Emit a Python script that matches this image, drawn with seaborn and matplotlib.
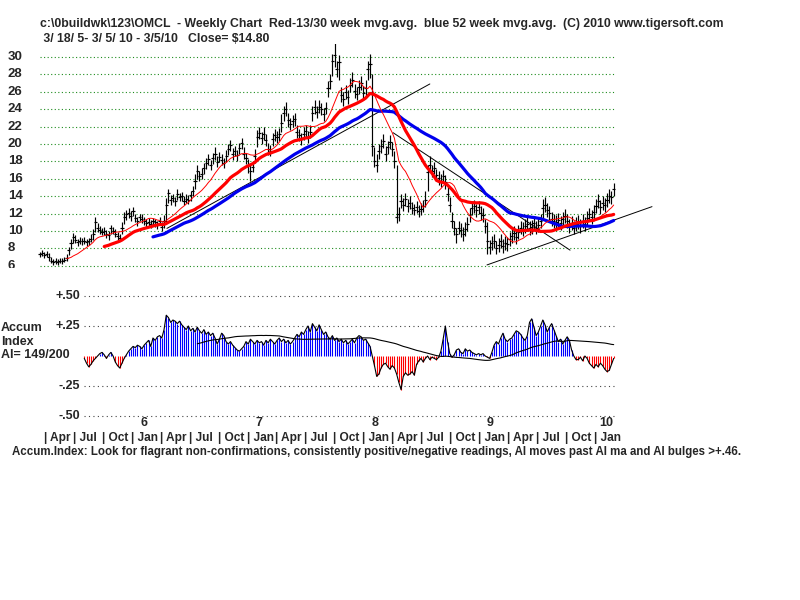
import numpy as np
import pandas as pd
import matplotlib
matplotlib.use("Agg")
import matplotlib.pyplot as plt
import seaborn as sns
from matplotlib.transforms import blended_transform_factory
from matplotlib.patches import Rectangle

# weekly bars from 3/18/05 to 3/5/10
closes = [
    7.3, 7.5, 7.2, 7.4, 7.0, 6.6, 6.4, 6.5, 6.4, 6.6,
    6.5, 6.7, 6.9, 7.8, 8.6, 9.3, 9.0, 8.7, 8.9, 8.8,
    8.9, 8.7, 8.8, 9.1, 9.6, 11.0, 10.4, 10.1, 9.9, 10.0,
    9.6, 9.5, 10.3, 10.0, 9.7, 9.4, 9.2, 10.4, 11.6, 11.9,
    12.1, 11.7, 12.3, 11.5, 11.1, 11.6, 11.4, 11.2, 10.9, 11.0,
    10.8, 11.1, 11.0, 10.7, 11.2, 10.5, 11.1, 13.0, 14.4, 13.6,
    13.8, 13.4, 14.2, 13.9, 14.0, 13.5, 13.7, 13.6, 14.1, 14.6,
    15.8, 16.9, 16.3, 16.6, 17.2, 17.8, 18.3, 17.6, 18.4, 18.9,
    17.9, 18.5, 18.2, 17.8, 18.6, 19.4, 19.9, 18.8, 19.2, 18.7,
    19.5, 20.1, 18.9, 18.4, 17.6, 16.9, 17.4, 18.6, 20.8, 21.3,
    20.7, 21.2, 20.5, 19.4, 19.2, 20.6, 21.0, 20.8, 21.1, 22.4,
    23.6, 24.0, 22.8, 22.3, 22.6, 22.9, 21.4, 21.0, 20.6, 21.2,
    21.5, 20.8, 21.4, 23.6, 24.2, 23.7, 24.3, 24.0, 23.4, 24.1,
    26.4, 27.2, 29.5, 30.2, 28.6, 29.4, 25.6, 25.2, 26.0, 25.4,
    26.8, 27.4, 26.1, 25.8, 26.6, 27.0, 25.9, 26.4, 28.6, 29.2,
    19.8, 18.1, 17.6, 19.2, 19.8, 20.3, 18.9, 19.6, 20.2, 19.4,
    18.0, 11.6, 12.0, 13.4, 13.0, 13.7, 12.9, 13.2, 12.6, 12.4,
    12.8, 12.3, 12.5, 12.9, 13.6, 16.8, 17.6, 16.9, 17.2, 16.4,
    16.1, 15.8, 16.3, 15.6, 14.2, 13.0, 11.2, 10.3, 9.6, 10.4,
    10.1, 9.7, 10.2, 10.8, 11.8, 12.6, 12.9, 12.4, 12.8, 12.1,
    11.8, 10.6, 8.9, 8.2, 8.6, 8.8, 8.1, 8.4, 8.9, 8.3,
    8.6, 8.5, 9.1, 9.4, 9.8, 9.3, 9.9, 10.4, 10.2, 10.6,
    10.8, 10.3, 10.5, 10.9, 10.4, 10.7, 11.1, 12.6, 13.0, 12.4,
    12.1, 11.4, 11.2, 11.0, 11.3, 10.9, 11.4, 11.7, 11.1, 10.6,
    10.9, 10.4, 10.8, 11.0, 10.6, 11.2, 10.8, 11.5, 11.9, 11.6,
    12.2, 12.9, 13.4, 12.8, 13.2, 13.0, 13.6, 14.0, 13.9, 14.8,
]
highs = [
    7.6, 7.8, 7.6, 7.7, 7.5, 7.0, 6.8, 6.9, 6.8, 6.9,
    6.9, 7.0, 7.3, 8.2, 9.1, 9.8, 9.5, 9.1, 9.3, 9.2,
    9.3, 9.1, 9.2, 9.6, 10.2, 11.6, 10.9, 10.6, 10.4, 10.5,
    10.1, 10.0, 10.7, 10.5, 10.2, 9.9, 9.7, 11.0, 12.2, 12.4,
    12.6, 12.3, 12.8, 12.0, 11.6, 12.0, 11.9, 11.6, 11.4, 11.5,
    11.3, 11.5, 11.4, 11.2, 11.6, 11.0, 11.8, 13.8, 14.8, 14.1,
    14.3, 13.9, 14.8, 14.4, 14.5, 14.0, 14.2, 14.1, 14.6, 15.2,
    16.5, 17.6, 16.9, 17.2, 17.8, 18.4, 18.9, 18.2, 19.0, 19.6,
    18.6, 19.1, 18.8, 18.4, 19.3, 20.0, 20.5, 19.5, 19.8, 19.3,
    20.1, 20.7, 19.6, 19.0, 18.3, 17.6, 18.1, 19.4, 21.6, 22.0,
    21.4, 21.9, 21.2, 20.1, 19.9, 21.3, 21.7, 21.5, 21.8, 23.4,
    24.4, 24.8, 23.6, 23.0, 23.3, 23.6, 22.2, 21.7, 21.3, 21.9,
    22.2, 21.5, 22.2, 24.4, 25.0, 24.4, 25.0, 24.7, 24.1, 24.8,
    27.2, 28.0, 30.4, 31.6, 29.5, 30.2, 26.5, 26.0, 26.8, 26.2,
    27.6, 28.3, 26.9, 26.6, 27.4, 27.8, 26.7, 27.3, 29.5, 30.3,
    28.0, 19.6, 18.8, 20.0, 20.6, 21.2, 19.8, 20.4, 21.0, 20.2,
    19.2, 17.6, 12.8, 14.2, 13.8, 14.4, 13.7, 14.0, 13.3, 13.1,
    13.5, 13.0, 13.2, 13.6, 14.6, 17.6, 18.6, 17.6, 17.9, 17.1,
    16.9, 16.5, 17.0, 16.4, 15.4, 13.9, 12.2, 11.2, 10.4, 11.2,
    10.9, 10.5, 11.0, 11.6, 12.6, 13.3, 13.6, 13.1, 13.5, 12.9,
    12.6, 11.4, 11.0, 9.0, 9.4, 9.6, 8.9, 9.2, 9.7, 9.1,
    9.4, 9.3, 9.9, 10.2, 10.6, 10.1, 10.7, 11.2, 11.0, 11.4,
    11.6, 11.1, 11.3, 11.7, 11.2, 11.5, 11.9, 13.7, 13.9, 13.2,
    12.9, 12.2, 12.0, 11.8, 12.1, 11.7, 12.2, 12.5, 11.9, 11.4,
    11.7, 11.2, 11.6, 11.8, 11.4, 12.0, 11.6, 12.3, 12.7, 12.4,
    13.0, 13.7, 14.2, 13.6, 14.0, 13.8, 14.4, 14.8, 14.6, 15.5,
]
lows = [
    7.0, 7.1, 6.9, 7.0, 6.6, 6.3, 6.1, 6.2, 6.1, 6.3,
    6.2, 6.4, 6.6, 7.2, 7.9, 8.6, 8.6, 8.3, 8.5, 8.4,
    8.5, 8.3, 8.4, 8.7, 9.0, 9.9, 9.9, 9.6, 9.5, 9.5,
    9.2, 9.0, 9.7, 9.6, 9.3, 9.0, 8.8, 9.6, 10.8, 11.3,
    11.5, 11.2, 11.7, 11.0, 10.6, 11.1, 10.9, 10.7, 10.4, 10.5,
    10.3, 10.6, 10.5, 10.2, 10.7, 10.0, 10.4, 11.0, 13.2, 13.0,
    13.3, 12.9, 13.6, 13.4, 13.5, 13.0, 13.2, 13.1, 13.5, 14.0,
    14.8, 16.0, 15.7, 16.0, 16.6, 17.1, 17.6, 17.0, 17.7, 18.2,
    17.3, 17.9, 17.6, 17.2, 17.9, 18.7, 19.2, 18.2, 18.6, 18.1,
    18.9, 19.4, 18.3, 17.7, 16.7, 15.8, 16.8, 17.8, 19.6, 20.6,
    20.0, 20.5, 19.8, 18.7, 18.6, 19.8, 20.3, 20.1, 20.4, 21.4,
    22.6, 23.2, 22.0, 21.6, 21.9, 22.1, 20.7, 20.3, 19.9, 20.5,
    20.8, 20.1, 20.7, 22.6, 23.4, 23.0, 23.6, 23.3, 22.7, 23.4,
    25.4, 26.3, 27.8, 28.9, 27.7, 27.4, 24.8, 24.4, 25.2, 24.6,
    26.0, 26.5, 25.3, 25.0, 25.8, 26.2, 25.1, 25.5, 27.4, 27.6,
    18.6, 17.3, 16.8, 18.3, 19.0, 19.5, 18.1, 18.8, 19.4, 18.6,
    17.2, 10.9, 11.2, 12.6, 12.3, 12.9, 12.2, 12.5, 11.9, 11.8,
    12.1, 11.6, 11.8, 12.2, 12.8, 14.6, 16.8, 16.2, 16.5, 15.7,
    15.3, 15.1, 15.6, 14.8, 13.4, 12.2, 10.4, 9.5, 8.6, 9.6,
    9.3, 8.9, 9.4, 10.0, 11.0, 11.8, 12.1, 11.6, 12.0, 11.3,
    11.0, 9.8, 7.4, 7.4, 7.8, 8.0, 7.3, 7.6, 8.1, 7.5,
    7.8, 7.7, 8.3, 8.6, 9.0, 8.5, 9.1, 9.6, 9.4, 9.8,
    10.0, 9.5, 9.7, 10.1, 9.6, 9.9, 10.3, 11.5, 12.2, 11.6,
    11.3, 10.6, 10.4, 10.2, 10.5, 10.1, 10.6, 10.9, 10.3, 9.8,
    10.1, 9.6, 10.0, 10.2, 9.8, 10.4, 10.0, 10.7, 11.1, 10.8,
    11.4, 12.1, 12.6, 12.0, 12.4, 12.2, 12.8, 13.2, 13.1, 14.0,
]

# accumulation index, starts at week 20
ai_start = 20
ai_values = [
    -0.02, -0.06, -0.09, -0.07, -0.04, -0.02, 0.00, 0.02, 0.03, 0.01,
    -0.02, 0.01, 0.03, 0.00, -0.05, -0.08, -0.10, -0.06, -0.02, 0.01,
    0.04, 0.06, 0.08, 0.07, 0.09, 0.08, 0.06, 0.09, 0.11, 0.13,
    0.08, 0.15, 0.13, 0.16, 0.17, 0.15, 0.22, 0.34, 0.32, 0.28,
    0.30, 0.29, 0.27, 0.29, 0.26, 0.24, 0.22, 0.25, 0.21, 0.23,
    0.20, 0.24, 0.21, 0.19, 0.22, 0.18, 0.20, 0.17, 0.19, 0.15,
    0.10, 0.14, 0.19, 0.17, 0.12, 0.10, 0.12, 0.09, 0.07, 0.05,
    0.04, 0.06, 0.08, 0.12, 0.10, 0.14, 0.12, 0.10, 0.13, 0.11,
    0.12, 0.09, 0.13, 0.11, 0.14, 0.12, 0.10, 0.13, 0.15, 0.12,
    0.14, 0.11, 0.13, 0.10, 0.12, 0.15, 0.18, 0.16, 0.20, 0.18,
    0.22, 0.25, 0.20, 0.27, 0.24, 0.21, 0.26, 0.22, 0.18, 0.20,
    0.16, 0.14, 0.17, 0.13, 0.15, 0.12, 0.14, 0.11, 0.13, 0.10,
    0.12, 0.14, 0.11, 0.15, 0.17, 0.16, 0.13, 0.14, 0.11, 0.08,
    0.00, -0.08, -0.17, -0.15, -0.10, -0.07, -0.06, -0.09, -0.11, -0.08,
    -0.10, -0.15, -0.22, -0.28, -0.17, -0.14, -0.16, -0.15, -0.13, -0.16,
    -0.07, -0.04, -0.02, -0.05, -0.02, 0.00, -0.03, -0.01, -0.02, -0.03,
    -0.01, 0.04, 0.14, 0.25, 0.12, 0.02, -0.01, 0.01, 0.05, 0.06,
    0.03, 0.02, 0.06, 0.04, 0.05, 0.03, 0.02, 0.01, 0.02, 0.01,
    0.02, 0.00, -0.01, -0.02, 0.03, 0.09, 0.12, 0.10, 0.15, 0.19,
    0.14, 0.12, 0.14, 0.15, 0.18, 0.21, 0.20, 0.18, 0.15, 0.13,
    0.17, 0.28, 0.31, 0.24, 0.17, 0.20, 0.25, 0.30, 0.26, 0.20,
    0.24, 0.27, 0.22, 0.17, 0.12, 0.14, 0.10, 0.13, 0.16, 0.13,
    0.05, 0.00, -0.03, -0.03, -0.01, -0.04, 0.00, -0.02, -0.06, -0.08,
    -0.10, -0.07, -0.09, -0.06, -0.08, -0.11, -0.13, -0.12, -0.07, -0.02,
]

# hand-drawn trend lines (week, price)
trend_lines = [
    [(57.3, 10.3), (176.0, 26.9)],
    [(159.4, 21.3), (239.3, 7.8)],
    [(201.8, 6.1), (276.3, 12.8)],
]

price_ticks = [30, 28, 26, 24, 22, 20, 18, 16, 14, 12, 10, 8, 6]
ai_ticks = [0.5, 0.25, -0.25, -0.5]
ai_tick_labels = ["+.50", "+.25", "-.25", "-.50"]
month_names = {1: "Jan", 4: "Apr", 7: "Jul", 10: "Oct"}

title1 = ("c:\\0buildwk\\123\\OMCL  - Weekly Chart  Red-13/30 week mvg.avg.  "
          "blue 52 week mvg.avg.  (C) 2010 www.tigersoft.com")
title2 = " 3/ 18/ 5- 3/ 5/ 10 - 3/5/10   Close= $14.80"
note = ("Accum.Index: Look for flagrant non-confirmations, consistently positive/negative "
        "readings, AI moves past AI ma and AI bulges >+.46.")

sns.set_theme(style="white")
plt.rcParams['font.family'] = ['Liberation Sans', 'DejaVu Sans']
plt.rcParams['font.weight'] = 'bold'

n = len(closes)
weeks = np.arange(n)
start = pd.Timestamp("2005-03-18")
df = pd.DataFrame({"week": weeks, "close": closes, "high": highs, "low": lows})
df["ma13"] = df["close"].rolling(13).mean()
df["ma30"] = df["close"].rolling(30).mean()
df["ma52"] = df["close"].rolling(52).mean()

ai = pd.Series(np.nan, index=weeks)
ai.iloc[ai_start:ai_start + len(ai_values)] = ai_values
ai_ma = ai.rolling(52).mean()
adf = pd.DataFrame({"week": weeks, "ai": ai, "ai_ma": ai_ma})

W, H = 800, 600
X0, PXW = 40, 2.215  # pixel of week 0, pixels per week

def fx(px):
    return px / W

def fy(py):
    return 1 - py / H

fig = plt.figure(figsize=(8, 6), dpi=100)
fig.patch.set_facecolor("white")

# price panel
ax = fig.add_axes([fx(38), fy(268), fx(660) - fx(38), (268 - 44) / H])
ax.set_xlim((38 - X0) / PXW, (660 - X0) / PXW)
ax.set_ylim(30 - (268 - 57) / 8.7, 30 + (57 - 44) / 8.7)
ax.hlines(price_ticks, -0.2, n - 0.4, colors="#1e8c1e", linewidth=0.8,
          linestyles=(0, (1, 2.2)))

ax.vlines(df["week"], df["low"], df["high"], colors="black", linewidth=0.85)
ax.hlines(df["close"], df["week"] - 0.7, df["week"] + 0.7, colors="black", linewidth=0.85)

for (x1, y1), (x2, y2) in trend_lines:
    ax.plot([x1, x2], [y1, y2], color="black", linewidth=0.7)

sns.lineplot(data=df.dropna(subset=["ma52"]), x="week", y="ma52", ax=ax,
             color="#0000ee", linewidth=2.3)
sns.lineplot(data=df.dropna(subset=["ma30"]), x="week", y="ma30", ax=ax,
             color="#ff0000", linewidth=2.3)
sns.lineplot(data=df.dropna(subset=["ma13"]), x="week", y="ma13", ax=ax,
             color="#ff0000", linewidth=0.7)

# accumulation panel
ax2 = fig.add_axes([fx(38), fy(424), fx(660) - fx(38), (424 - 288) / H])
ax2.set_xlim(ax.get_xlim())
ax2.set_ylim(-68 / 120, 68 / 120)
ax2.hlines(ai_ticks, ai_start, n - 0.4, colors="#444444", linewidth=0.8,
           linestyles=(0, (1, 3)))
av = adf.dropna(subset=["ai"])
ax2.vlines(av["week"], 0, av["ai"], linewidth=0.8,
           colors=np.where(av["ai"] > 0, "#0000ff", "#ff0000"))
sns.lineplot(data=av, x="week", y="ai", ax=ax2, color="black", linewidth=0.8)
sns.lineplot(data=adf.dropna(subset=["ai_ma"]), x="week", y="ai_ma", ax=ax2,
             color="black", linewidth=0.8)

for a in (ax, ax2):
    a.set_axis_off()

# tick labels
fs = 9.5
tr_price = blended_transform_factory(fig.transFigure, ax.transData)
clip = Rectangle((0, fy(268)), 0.1, fy(40) - fy(268), transform=fig.transFigure)
for p in price_ticks:
    t = fig.text(fx(8), p, str(p), transform=tr_price, va="center", ha="left",
                 fontsize=fs, fontweight="bold")
    t.set_clip_path(clip)

tr_ai = blended_transform_factory(fig.transFigure, ax2.transData)
for v, lab in zip(ai_ticks, ai_tick_labels):
    fig.text(fx(80), v, lab, transform=tr_ai, va="center", ha="right",
             fontsize=9, fontweight="bold")
fig.text(fx(1), fy(328), "Accum", va="center", ha="left", fontsize=9, fontweight="bold")
fig.text(fx(1), fy(342), "Index", va="center", ha="left", fontsize=9, fontweight="bold")
fig.text(fx(1), fy(355), "AI= 149/200", va="center", ha="left", fontsize=9, fontweight="bold")

# date axis
tr_date = blended_transform_factory(ax2.transData, fig.transFigure)
dates = start + pd.to_timedelta(weeks * 7, unit="D")
end = dates[-1]
for d in pd.date_range("2005-04-01", end, freq="QS"):
    w = (d - start).days / 7
    fig.text(w, fy(438), "| " + month_names[d.month], transform=tr_date,
             va="center", ha="left", fontsize=8.6, fontweight="bold")
    if d.month == 1:
        fig.text(w + 5.5, fy(423), str(d.year % 100), transform=tr_date,
                 va="center", ha="center", fontsize=9, fontweight="bold")

fig.text(fx(40), fy(24), title1, va="center", ha="left", fontsize=8.8, fontweight="bold")
fig.text(fx(40), fy(39), title2, va="center", ha="left", fontsize=8.8, fontweight="bold")
fig.text(fx(12), fy(452), note, va="center", ha="left", fontsize=8.3, fontweight="bold")

fig.savefig("out.png", dpi=100, facecolor="white")
